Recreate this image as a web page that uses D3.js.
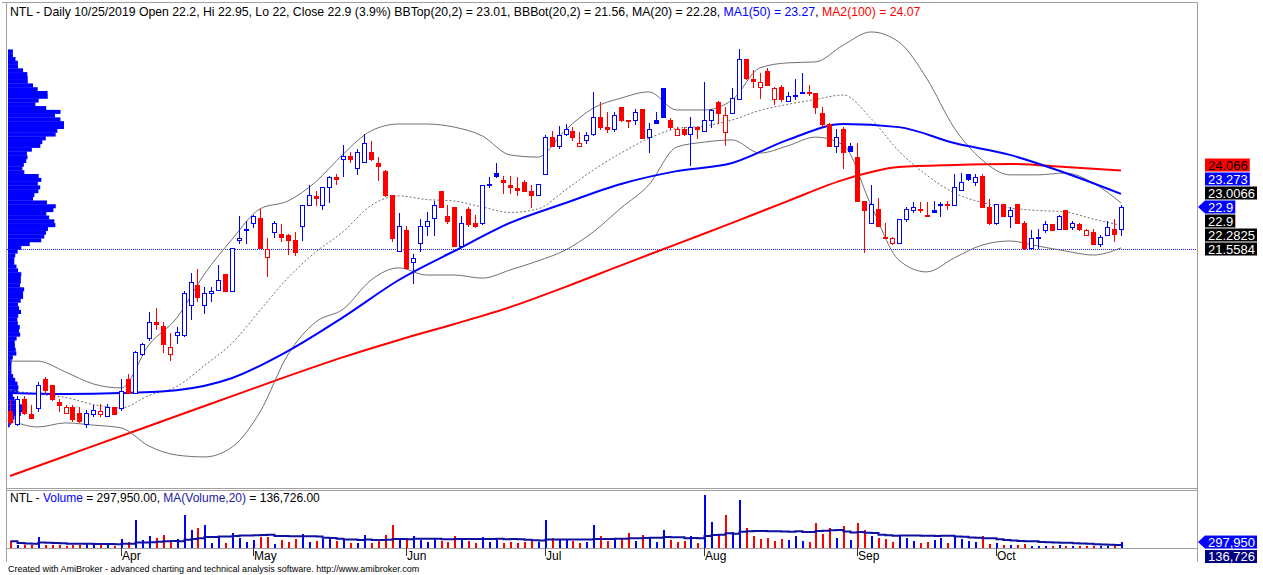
<!DOCTYPE html>
<html lang="en">
<head>
<meta charset="UTF-8">
<title>NTL Daily</title>
<script src="https://d3js.org/d3.v7.min.js"></script>
<style>
    body { margin: 0; background: #fff; }
    svg { display: block; font-family: "Liberation Sans", Arial, sans-serif; }
</style>
</head>
<body>
<script>
    const width = 1263;
    const height = 575;

    // daily bars, 8 Mar 2019 .. 25 Oct 2019 (index = trading day)
    const open = [16.35,15.95,16.75,16.25,16.45,17.4,17.2,16.65,16.3,16.5,16.3,15.95,16.25,16.25,16.2,16.5,
        16.45,17.4,16.95,18.2,18.7,19.2,19.1,18.2,18.8,18.8,19.75,20.4,19.75,20.15,20.25,20.75,20.2,21.85,22.15,
        22.4,22.55,21.3,22.1,22.05,22.0,21.85,22.3,22.95,23.25,22.95,23.55,23.85,24.45,24.55,24.15,24.35,24.65,24.3,24.05,23.3,21.5,
        22.15,21.15,21.75,22.3,22.55,23.4,22.6,22.9,21.65,22.85,22.4,22.4,23.6,24.0,23.75,23.6,23.5,23.7,23.4,23.3,
        23.95,25.15,24.85,25.25,25.35,24.85,25.05,25.25,25.8,25.45,25.4,26.1,25.7,25.7,26.05,25.15,25.7,26.7,25.7,25.2,25.4,25.25,25.45,
        25.35,25.7,26.25,25.3,25.9,26.35,27.65,27.0,26.75,27.25,26.35,26.75,26.3,26.45,26.55,26.6,26.55,25.9,25.55,24.85,25.4,24.85,
        24.5,23.1,22.4,22.85,21.9,21.75,21.75,22.5,22.8,22.85,22.65,22.8,22.95,23.0,22.95,23.45,23.95,23.7,23.9,22.9,
        22.4,23.0,22.6,23.0,22.4,21.6,21.9,22.15,22.35,22.2,22.8,22.25,22.35,22.0,22.1,21.7,22.0,22.2,22.2];
    const high = [16.7,16.85,16.85,16.55,17.3,17.45,17.2,16.75,16.55,16.55,16.5,16.4,16.55,16.6,16.6,16.5,
        17.4,17.55,18.3,18.55,19.55,19.65,19.2,18.85,19.05,20.2,20.8,20.9,20.35,20.35,21.05,20.75,21.6,22.6,22.45,
        22.65,22.85,21.9,22.45,22.35,22.05,22.1,22.95,23.6,23.4,23.55,23.9,23.95,24.9,24.65,24.75,25.25,25.0,24.5,24.1,23.3,22.7,
        22.3,21.4,22.5,22.75,23.1,23.4,22.95,22.9,22.6,22.9,22.65,23.6,23.85,24.3,23.9,23.9,23.85,23.75,23.6,23.65,
        25.2,25.35,25.5,25.55,25.45,25.3,25.3,26.6,26.25,25.95,25.95,26.1,25.7,26.05,26.05,25.6,25.95,26.7,25.75,25.45,25.45,25.8,25.45,
        26.9,26.05,26.3,26.1,26.7,27.95,27.65,27.3,27.2,27.35,26.75,26.8,26.6,27.0,27.2,26.8,26.55,26.1,25.6,25.4,25.45,24.95,
        24.95,23.1,23.6,23.2,22.4,21.95,22.5,22.9,23.05,23.05,23.05,23.1,23.05,23.1,23.95,24.0,23.95,23.95,23.95,23.15,
        23.0,23.0,22.9,23.0,22.45,22.15,22.2,22.45,22.35,22.65,22.8,22.45,22.4,22.2,22.2,22.0,22.45,22.5,22.95];
    const low = [15.95,15.9,16.25,16.15,16.35,16.95,16.7,16.35,16.3,16.05,16.0,15.85,16.2,16.2,16.2,16.25,
        16.4,16.95,16.95,18.15,18.65,19.0,18.25,18.0,18.55,18.75,19.3,19.9,19.5,19.9,20.25,20.2,20.2,21.75,21.75,
        22.25,21.6,20.7,21.95,21.8,21.4,21.35,21.85,22.95,22.95,22.85,23.05,23.65,23.9,24.35,23.95,24.35,24.4,23.75,23.25,21.8,21.5,
        20.95,20.45,21.5,22.0,22.0,22.9,22.4,21.65,21.65,22.3,22.25,22.35,23.55,23.85,23.35,23.35,23.3,23.4,22.9,23.3,
        23.95,24.85,24.8,25.2,25.05,24.85,24.95,25.2,25.4,25.3,25.35,25.65,25.45,25.55,25.1,24.65,25.6,25.8,25.4,25.2,25.2,24.25,25.1,
        25.35,25.45,25.6,24.9,25.9,26.35,27.0,26.75,26.4,26.8,26.2,26.3,26.3,26.35,26.55,26.5,25.9,25.5,24.85,24.65,24.15,24.7,
        23.1,21.45,22.4,22.3,21.9,21.7,21.75,22.45,22.75,22.75,22.6,22.75,22.6,22.85,22.95,23.45,23.75,23.6,22.9,22.35,
        22.35,22.6,22.25,22.4,21.55,21.55,21.6,22.1,22.15,22.2,22.2,22.2,22.15,22.0,21.7,21.65,22.0,21.8,22.0];
    const close = [16.0,16.75,16.3,16.15,17.2,17.05,16.75,16.55,16.5,16.1,16.05,16.3,16.4,16.35,16.5,16.25,
        17.0,16.95,18.25,18.5,19.2,19.15,18.5,18.4,18.9,20.15,20.5,20.0,20.15,20.2,20.55,20.2,21.6,21.9,22.2,
        22.6,21.6,21.55,22.4,21.95,21.85,21.45,22.95,23.3,23.2,23.55,23.85,23.8,24.55,24.45,24.65,24.95,24.45,24.2,23.3,21.9,22.3,
        20.95,21.25,22.3,22.45,22.95,22.9,22.45,21.65,22.4,22.35,22.3,23.6,23.65,23.9,23.7,23.55,23.45,23.4,23.3,23.65,
        25.15,24.85,25.2,25.4,25.15,24.95,25.2,25.8,25.45,25.4,25.85,25.7,25.65,25.95,25.1,25.4,25.6,25.8,25.45,25.4,25.25,25.45,25.4,
        25.7,26.0,25.9,25.85,26.4,27.65,27.05,26.95,26.9,26.8,26.7,26.35,26.45,26.5,26.6,26.55,26.1,25.55,24.85,25.15,24.65,24.7,
        23.1,22.8,23.0,22.3,21.95,21.9,22.5,22.85,22.9,22.8,22.6,22.75,23.0,22.95,23.55,23.7,23.8,23.85,22.9,22.4,
        23.0,22.6,22.8,22.4,21.6,21.9,21.95,22.35,22.15,22.6,22.2,22.4,22.2,22.15,21.7,21.95,22.25,22.05,22.9];
    // volume, thousand shares
    const volume = [335,165,165,165,550,165,165,165,85,165,165,200,165,165,165,115,
        450,285,1400,385,585,500,665,385,450,1650,885,1000,1150,250,585,250,750,500,285,
        415,550,550,215,415,285,450,715,285,335,450,450,335,385,250,250,665,250,415,665,1150,385,
        415,600,400,300,450,350,300,600,450,350,250,550,300,400,250,300,250,300,450,300,
        1400,500,400,450,350,250,300,1150,600,350,500,450,750,350,650,500,300,900,400,300,350,600,250,
        2650,1300,700,1650,800,2400,1000,600,450,500,350,450,400,600,350,300,1250,700,1000,500,1100,400,
        1250,900,600,500,450,300,650,500,350,250,300,400,500,250,550,450,350,300,600,200,
        250,150,150,150,200,100,100,100,100,150,100,100,100,100,100,100,100,100,297.95];

    // indicator lines read every 4 / 8 bars
    const bandStep = 4;
    const bbTop = [17.96,17.96,17.61,17.23,17.10,18.48,19.34,20.75,21.87,22.84,23.09,23.70,24.60,25.34,25.56,25.56,
        25.46,25.18,24.57,24.50,25.37,26.07,26.39,26.59,26.01,26.01,26.33,27.36,27.52,27.55,28.09,28.51,28.19,27.03,
        25.43,24.41,23.93,23.93,23.99,23.67,23.03];
    const bbBot = [16.07,15.85,15.98,15.91,15.82,15.24,14.95,14.89,15.21,16.33,18.16,19.21,19.63,20.56,20.95,20.72,
        20.72,20.62,20.88,21.17,21.52,22.10,22.87,23.61,24.82,24.98,25.05,24.63,24.86,25.14,24.89,22.96,21.20,20.82,
        21.27,21.68,21.81,21.65,21.49,21.36,21.59];
    const maStep = 8;
    const ma50 = [16.94,16.91,16.94,17.03,17.42,18.28,19.37,20.56,21.49,22.39,23.03,23.64,24.05,24.31,25.05,25.56,
        25.46,24.95,24.57,23.99,23.32];
    const ma100 = [14.28,14.92,15.56,16.2,16.84,17.48,18.09,18.64,19.15,19.69,20.34,21.03,21.71,22.39,23.09,23.77,
        24.18,24.25,24.28,24.18,24.07];

    const monthNames = ["Apr", "May", "Jun", "Jul", "Aug", "Sep", "Oct"];
    const monthStart = [16, 35, 57, 77, 100, 122, 142];

    // last values shown on the right axis
    const lastLabels = [
        {v: 24.066, bg: "#ff0000", fg: "#000"},
        {v: 23.273, bg: "#0000ff", fg: "#fff"},
        {v: 23.0066, bg: "#000", fg: "#fff"},
        {v: 22.9, bg: "#0000ff", fg: "#fff", arrow: true},
        {v: 22.9, bg: "#000", fg: "#fff"},
        {v: 22.2825, bg: "#000", fg: "#fff"},
        {v: 21.5584, bg: "#000", fg: "#fff"}
    ];
    const volLabels = [
        {v: 297950, bg: "#0000ff", fg: "#fff", arrow: true},
        {v: 136726, bg: "#000080", fg: "#fff"}
    ];
    const bbBotLast = 21.5584;

    const n = close.length;
    const left = 7, right = 1197;
    const priceBottom = 488, volTop = 490, volBottom = 548;

    const svg = d3.select("body").append("svg")
            .attr("width", width).attr("height", height);

    const x = d3.scaleLinear().domain([0, n - 1]).range([10, 1121]);
    const y = d3.scaleLinear().domain([13.894, 28.541]).range([priceBottom, 31]);
    const yVol = d3.scaleLinear().domain([0, 2900]).range([volBottom, volTop]);
    const px = i => Math.round(x(i));

    const up = i => i === 0 ? close[0] >= open[0] : close[i] >= close[i - 1];
    const colorOf = i => up(i) ? "#0000ff" : "#ff0000";

    svg.append("defs").append("clipPath").attr("id", "priceClip")
            .append("rect").attr("x", left).attr("y", 2).attr("width", right - left).attr("height", priceBottom - 2);

    // frame
    const frame = svg.append("g").attr("stroke", "#a0a0a0").attr("shape-rendering", "crispEdges");
    frame.append("line").attr("x1", 2).attr("x2", right + 0.5).attr("y1", 2.5).attr("y2", 2.5);
    frame.append("line").attr("x1", left - 0.5).attr("x2", left - 0.5).attr("y1", 2).attr("y2", 562);
    frame.append("line").attr("x1", right + 0.5).attr("x2", right + 0.5).attr("y1", 2).attr("y2", 562);
    frame.append("line").attr("x1", left).attr("x2", right).attr("y1", priceBottom + 0.5).attr("y2", priceBottom + 0.5);
    frame.append("line").attr("x1", left).attr("x2", right).attr("y1", volTop + 0.5).attr("y2", volTop + 0.5);
    frame.append("line").attr("x1", left).attr("x2", right).attr("y1", volBottom + 0.5).attr("y2", volBottom + 0.5);

    // price volume distribution on the left
    const pLo = d3.min(low), pHi = d3.max(high), bins = 100;
    const binSize = (pHi - pLo) / bins;
    const vap = new Array(bins).fill(0);
    for (let i = 0; i < n; i++) {
        const range = Math.max(high[i] - low[i], binSize);
        for (let b = 0; b < bins; b++) {
            const b0 = pLo + b * binSize, b1 = b0 + binSize;
            const ov = Math.min(b1, Math.max(high[i], low[i] + binSize)) - Math.max(b0, low[i]);
            if (ov > 0) vap[b] += volume[i] * ov / range;
        }
    }
    const vapScale = d3.scaleLinear().domain([0, d3.max(vap)]).range([0, 56]);

    // dotted level line
    svg.append("line")
            .attr("x1", left).attr("x2", right)
            .attr("y1", Math.round(y(bbBotLast)) + 0.5).attr("y2", Math.round(y(bbBotLast)) + 0.5)
            .attr("stroke", "#2020ff").attr("stroke-dasharray", "1,1");

    svg.append("g").selectAll("rect").data(vap).join("rect")
            .attr("x", left + 1)
            .attr("y", (d, b) => y(pLo + (b + 1) * binSize))
            .attr("height", (d, b) => y(pLo + b * binSize) - y(pLo + (b + 1) * binSize) + 0.3)
            .attr("width", d => vapScale(d))
            .attr("fill", "#0000ff");

    // indicator lines
    const lines = svg.append("g").attr("clip-path", "url(#priceClip)").attr("fill", "none");
    const curve = d3.curveMonotoneX;
    const bandLine = d3.line().x((d, k) => x(k * bandStep)).y(d => y(d)).curve(curve);
    const maLine = d3.line().x((d, k) => x(k * maStep)).y(d => y(d)).curve(curve);
    const ma20 = bbTop.map((t, k) => (t + bbBot[k]) / 2);

    lines.append("path").attr("d", maLine(ma100)).attr("stroke", "#ff0000").attr("stroke-width", 2);
    lines.append("path").attr("d", bandLine(bbTop)).attr("stroke", "#707070").attr("stroke-width", 1);
    lines.append("path").attr("d", bandLine(bbBot)).attr("stroke", "#707070").attr("stroke-width", 1);
    lines.append("path").attr("d", bandLine(ma20)).attr("stroke", "#707070").attr("stroke-width", 1)
            .attr("stroke-dasharray", "2,2");
    lines.append("path").attr("d", maLine(ma50)).attr("stroke", "#0000ff").attr("stroke-width", 2);

    // candles
    const candles = svg.append("g").attr("shape-rendering", "crispEdges")
            .selectAll("g").data(d3.range(n)).join("g");
    candles.append("line")
            .attr("x1", i => px(i) + 0.5).attr("x2", i => px(i) + 0.5)
            .attr("y1", i => Math.round(y(high[i]))).attr("y2", i => Math.round(y(low[i])) + 1)
            .attr("stroke", colorOf);
    candles.append("rect")
            .attr("x", i => px(i) - 1.5)
            .attr("width", 4)
            .attr("y", i => Math.round(y(Math.max(open[i], close[i]))) + 0.5)
            .attr("height", i => Math.max(0, Math.round(y(Math.min(open[i], close[i]))) - Math.round(y(Math.max(open[i], close[i])))))
            .attr("fill", i => close[i] < open[i] ? colorOf(i) : "#fff")
            .attr("stroke", colorOf);

    // volume
    svg.append("g").attr("shape-rendering", "crispEdges").selectAll("line").data(d3.range(n)).join("line")
            .attr("x1", i => px(i) + 0.5).attr("x2", i => px(i) + 0.5)
            .attr("y1", volBottom).attr("y2", i => yVol(volume[i]))
            .attr("stroke", colorOf).attr("stroke-width", 2);

    const volMA = volume.map((v, i) => d3.mean(volume.slice(Math.max(0, i - 19), i + 1)));
    svg.append("path")
            .attr("d", d3.line().x((d, i) => px(i) + 0.5).y(d => yVol(d)).curve(d3.curveStepAfter)(volMA))
            .attr("fill", "none").attr("stroke", "#1010a0").attr("stroke-width", 2);

    // month axis
    const axis = svg.append("g");
    axis.selectAll("line").data(monthStart).join("line")
            .attr("x1", i => px(i) + 0.5).attr("x2", i => px(i) + 0.5)
            .attr("y1", volBottom).attr("y2", volBottom + 8)
            .attr("stroke", "#333");
    axis.selectAll("text").data(monthStart).join("text")
            .attr("x", i => px(i) + 1).attr("y", 560)
            .attr("font-size", 12).attr("fill", "#000")
            .text((d, k) => monthNames[k]);

    // titles
    const title = svg.append("text").attr("x", 10).attr("y", 16).attr("font-size", 12.25);
    [["NTL - Daily 10/25/2019 Open 22.2, Hi 22.95, Lo 22, Close 22.9 (3.9%) BBTop(20,2) = 23.01, BBBot(20,2) = 21.56, MA(20) = 22.28, ", "#000"],
     ["MA1(50) = 23.27", "#0000ff"], [", ", "#000"], ["MA2(100) = 24.07", "#ff0000"]]
        .forEach(([t, c]) => title.append("tspan").attr("fill", c).text(t));

    const vTitle = svg.append("text").attr("x", 10).attr("y", 502).attr("font-size", 12);
    [["NTL - ", "#000"], ["Volume", "#0000ff"], [" = 297,950.00, ", "#000"], ["MA(Volume,20)", "#2020a0"], [" = 136,726.00", "#000"]]
        .forEach(([t, c]) => vTitle.append("tspan").attr("fill", c).text(t));

    svg.append("text").attr("x", 8).attr("y", 572).attr("font-size", 9).attr("fill", "#000")
            .text("Created with AmiBroker - advanced charting and technical analysis software. http://www.amibroker.com");

    // right side value labels, pushed apart around the arrow label
    function placeLabels(list, scale, gap) {
        const pos = list.map(d => scale(d.v));
        const a = list.findIndex(d => d.arrow);
        for (let k = a - 1; k >= 0; k--) pos[k] = Math.min(pos[k], pos[k + 1] - gap);
        for (let k = a + 1; k < list.length; k++) pos[k] = Math.max(pos[k], pos[k - 1] + gap);
        return pos;
    }
    function drawLabels(list, pos, fmt) {
        const g = svg.append("g").attr("font-size", 13);
        list.forEach((d, k) => {
            const cy = pos[k];
            const t = g.append("text").attr("x", 1208).attr("y", cy + 4.5).attr("fill", d.fg).text(fmt(d.v));
            const w = t.node().getComputedTextLength();
            g.insert("rect", "text").attr("x", 1205).attr("y", cy - 6.5).attr("width", w + 5).attr("height", 13)
                    .attr("fill", d.bg);
            if (d.arrow) {
                g.insert("path", "text").attr("d", `M${right + 1},${cy} L1205,${cy - 6.5} L1205,${cy + 6.5} Z`)
                        .attr("fill", d.bg);
            }
        });
    }
    drawLabels(lastLabels, placeLabels(lastLabels, y, 14), v => String(v));
    drawLabels(volLabels, placeLabels(volLabels, v => yVol(v / 1000), 14.5), d3.format(","));
</script>
</body>
</html>
